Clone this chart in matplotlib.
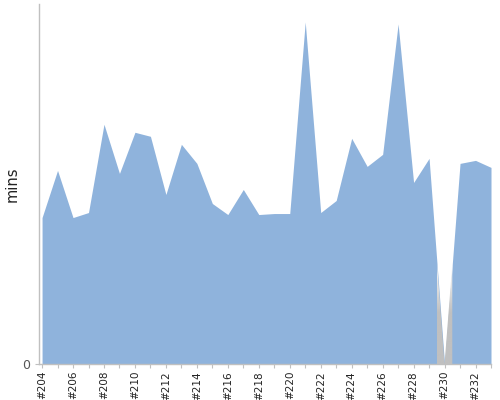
import numpy as np
import matplotlib as mpl
mpl.use('Agg')
import matplotlib.pyplot as plt
from matplotlib.colors import LinearSegmentedColormap

builds = [204, 205, 206, 207, 208, 209, 210, 211, 212, 213,
          214, 215, 216, 217, 218, 219, 220, 221, 222, 223,
          224, 225, 226, 227, 228, 229, 230, 231, 232, 233]
mins = [14.6, 19.3, 14.6, 15.1, 23.9, 19.0, 23.1, 22.7, 16.9, 21.9,
        20.0, 16.0, 14.9, 17.4, 14.9, 15.0, 15.0, 34.1, 15.1, 16.3,
        22.5, 19.7, 20.9, 33.9, 18.1, 20.5, 0.0, 20.0, 20.3, 19.6]
aborted = [230]
label_builds = [204, 206, 208, 210, 212, 214, 216, 218, 220, 222,
                224, 226, 228, 230, 232]


def main():
    fig = plt.figure(figsize=(5, 4), dpi=100)
    ax = fig.add_axes([0.077, 0.09, 0.905, 0.899])

    x = np.array(builds, dtype=float)
    y = np.array(mins)
    ymax = 35.85

    ax.fill_between(x, 0, y, color='#8fb3dc', linewidth=0, zorder=2)

    # aborted builds: gray, fading to white upwards
    cmap = LinearSegmentedColormap.from_list('ab', ['#c0c0c0', '#c0c0c0', '#ffffff'])
    for b in aborted:
        i = builds.index(b)
        xs = [b - 0.5, b, b + 0.5]
        ys = [(mins[i - 1] + mins[i]) / 2, mins[i], (mins[i] + mins[i + 1]) / 2]
        poly = ax.fill_between(xs, 0, ys, color='none', linewidth=0)
        top = max(ys)
        grad = np.linspace(0, 1, 100).reshape(-1, 1)
        im = ax.imshow(grad, extent=[b - 0.5, b + 0.5, 0, top], origin='lower',
                       aspect='auto', cmap=cmap, zorder=3, interpolation='bilinear')
        im.set_clip_path(poly.get_paths()[0], transform=ax.transData)

    ax.set_xlim(203.77, 233)
    ax.set_ylim(0, ymax)

    ax.set_xticks(builds, minor=True)
    ax.set_xticks(label_builds)
    ax.set_xticklabels(['#%d' % b for b in label_builds], rotation=90,
                       fontsize=7.5, color='#222222')
    ax.tick_params(axis='x', which='both', length=3, width=0.8, color='#c0c0c0',
                   direction='out', pad=2)
    ax.set_yticks([0])
    ax.set_yticklabels(['0'], fontsize=9, color='#555555')
    ax.tick_params(axis='y', length=3, width=0.8, color='#c0c0c0', pad=3)

    ax.set_ylabel('mins', fontsize=10.5, color='#222222')
    ax.yaxis.set_label_coords(-0.042, 0.5)

    for side in ['top', 'right']:
        ax.spines[side].set_visible(False)
    ax.spines['left'].set_color('#c0c0c0')
    ax.spines['bottom'].set_color('#c0c0c0')
    ax.spines['left'].set_linewidth(1)
    ax.spines['bottom'].set_linewidth(1)

    fig.savefig('out.png', dpi=100)


if __name__ == "__main__":
    main()
